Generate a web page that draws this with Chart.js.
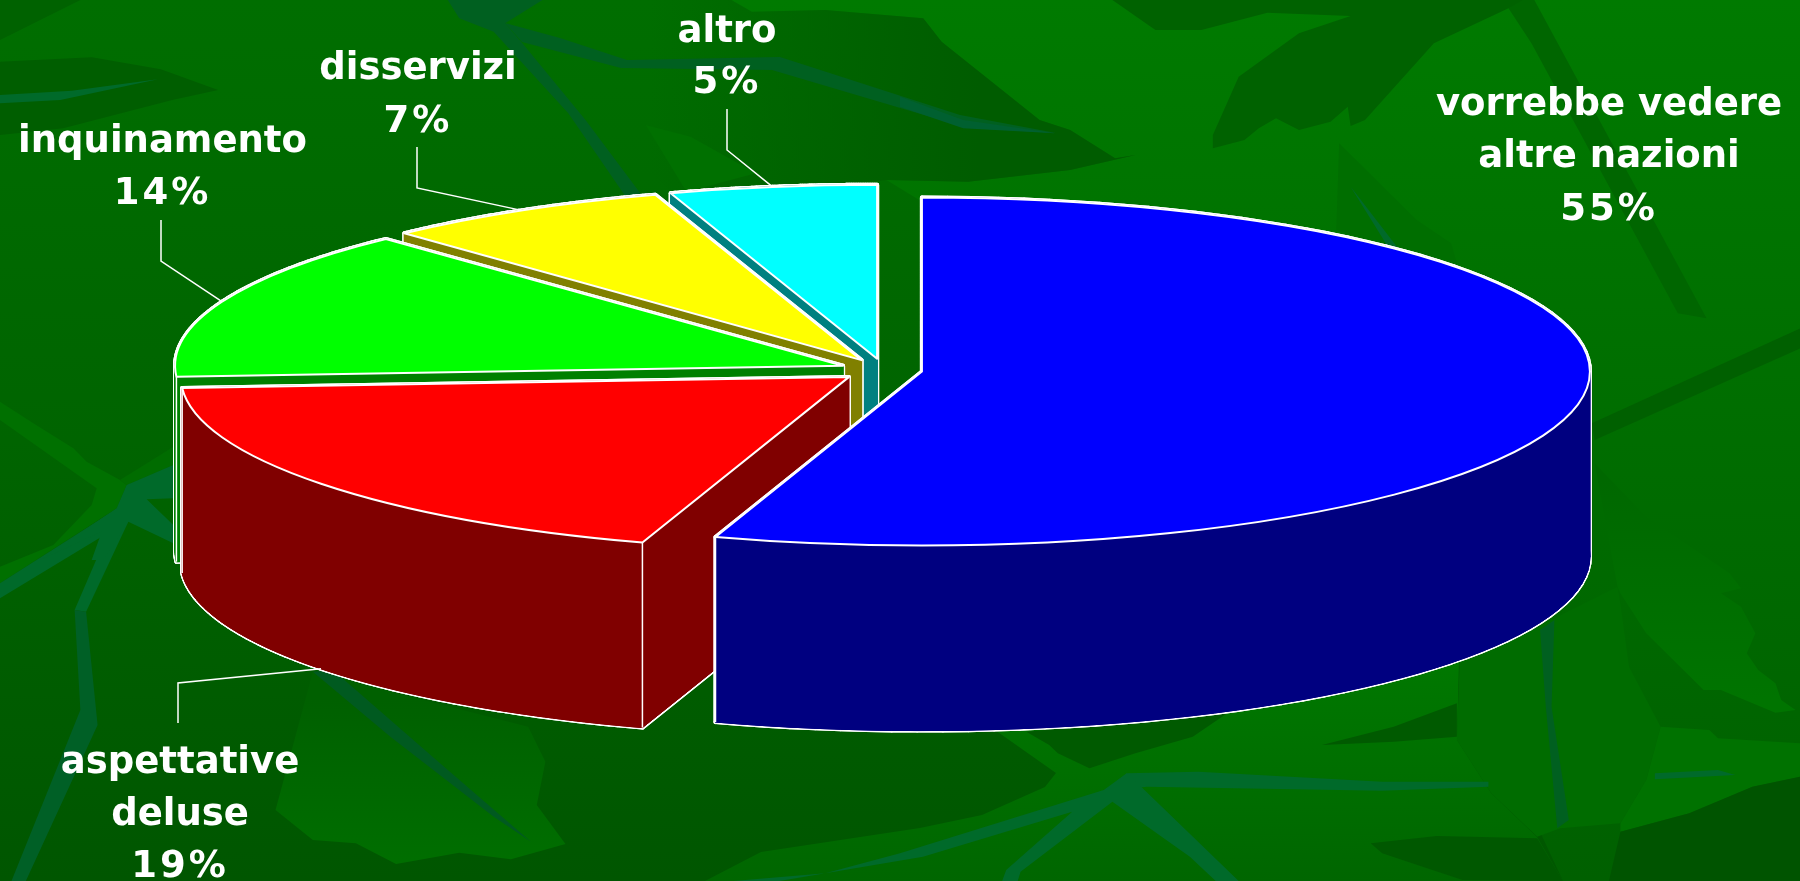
<!DOCTYPE html>
<html><head><meta charset="utf-8">
<style>html,body{margin:0;padding:0;background:#006400;overflow:hidden}#w{position:relative;width:1800px;height:881px}</style>
<script src="https://cdn.jsdelivr.net/npm/chart.js@4"></script>
</head><body><div id="w"><canvas id="c" width="1800" height="881"></canvas></div>
<script>
// ---- data ----
const categories = [['vorrebbe vedere','altre nazioni'],['aspettative','deluse'],['inquinamento'],['disservizi'],['altro']];
const values = [55,19,14,7,5];
const topColors = ['#0000ff','#ff0000','#00ff00','#ffff00','#00ffff'];
const wallColors = ['#000080','#800000','#008000','#808000','#008080'];

// ---- styling / layout (not data) ----
const RX = 668, RY = 174, DEPTH = 185;
const explode = [38.4,44.5,44,44,44];     // radial separation of each slice, in horizontal px
const paintOrder = [4,3,2,1,0];           // back to front
const labelPos = [
  {x:1609,y:[115,167,220]},
  {x:180,y:[773,825,877],elbow:[[178,723],[178,683]],onBase:true},
  {x:162.5,y:[152,204],elbow:[[161,220],[161,261]]},
  {x:418,y:[79,132],elbow:[[417,147],[417,188]]},
  {x:727,y:[42,93],elbow:[[727,109],[727,150]]}
];
const FONT = 'bold 37px "DejaVu Sans"';

// background foliage
const z1=a=>a.map(([x,y])=>[x/1.742,y/3]);
const z2=a=>a.map(([x,y])=>[900+x/1.742,y/3]);
const z3=a=>a.map(([x,y])=>[x/1.742,440+y/3]);
const z4=a=>a.map(([x,y])=>[900+x/1.742,440+y/3]);
const z5=a=>a.map(([x,y])=>[x/3,340+y/3]);
const z6=a=>a.map(([x,y])=>[560+x/2.45,y/3]);
const T='#006a2a', LIGHT=['#007a00','#006000'];
const foliage=[
 // light sheet behind the upper and right part of the picture
 [LIGHT,[...z6([[420,0],[470,35],[650,30],[890,55],[935,125],[1175,360],[1250,390],[1360,475],[1410,465],[1250,510],[1000,545],[800,540],[880,600]]),[1300,300],[1460,660],[1563,881],[1800,881],[1800,0]]],
 // shaded leaf that darkens from left to right under that sheet
 [{h:[650,980,'rgba(0,92,0,0)','rgba(0,92,0,1)']},z6([[420,0],[470,35],[650,30],[890,55],[935,125],[1175,360],[1250,390],[1360,475],[1410,465],[1250,510],[1000,545],[800,540],[300,600],[0,300],[0,0]])],
 ['#006200',z1([[0,0],[140,0],[0,120]])],
 ['#005e00',z1([[0,185],[160,172],[280,208],[380,270],[300,300],[110,385],[0,405]])],
 [T,z1([[0,285],[125,272],[275,238],[105,300],[0,310]])],
 ['#007000',z6([[210,375],[320,410],[480,520],[310,575]])],
 ['#006020',[[505,23],[560,38],[627,60],[780,57],[960,115],[1056,133],[968,128],[772,70],[621,68],[560,52],[522,42]]],
 ['#006020',z1([[780,0],[945,0],[880,70],[910,130],[1020,360],[1120,590],[1090,590],[990,340],[860,95],[800,55]])],
 ['#006030',z2([[0,290],[110,360],[270,400],[110,385],[0,320]])],
 ['#006200',z2([[370,0],[445,90],[525,90],[640,38],[785,48],[695,100],[590,230],[545,405],[545,445],[600,420],[625,385],[655,355],[695,390],[750,365],[780,320],[785,378],[810,360],[930,130],[1060,25],[1105,0]])],
 ['#006600',z2([[1085,0],[1105,0],[1405,955],[1355,940],[1100,130],[1060,25]])],
 ['#006000',z2([[1568,985],[1568,1045],[1210,1320],[1205,1270]])],
 ['#006e00',z2([[765,430],[900,660],[960,730],[970,790],[870,750],[760,690]])],
 [T,z2([[785,560],[870,750],[850,740]])],
 // lower left veins
 ['#007000',z5([[0,185],[100,250],[220,325],[260,365],[360,420],[380,435],[350,505],[0,730],[0,680],[160,615],[275,495],[290,445],[0,240]])],
 ['#006c00',z5([[360,420],[520,320],[520,375],[380,435]])],
 [T,z3([[0,430],[205,205],[225,240],[0,475]])],
 [T,z3([[225,130],[130,510],[150,515],[225,240]])],
 ['#006026',z3([[130,510],[140,810],[20,1323],[45,1323],[170,855],[150,515]])],
 [T,z5([[380,435],[520,375],[520,410],[480,410],[520,410],[520,475],[440,478],[520,555],[520,610],[385,545],[310,660],[275,660],[305,575],[120,660],[350,505]])],
 // bottom leaf
 [['#006000','#006e00',700,860],z3([[920,860],[950,965],[935,1095],[985,1212],[890,1258],[800,1238],[690,1272],[620,1210],[545,1200],[480,1110],[545,695]])],
 ['#005a20',z3([[545,695],[580,690],[760,960],[925,1205],[860,1130],[680,890]])],
 // lower centre and right
 [['#007800','#006600',660,881],[[995,730],[1056,773],[1045,787],[982,815],[920,828],[761,852],[705,881],[1563,881],[1537,837],[1491,793],[1457,740],[1460,620],[1000,620]]],
 ['#005a00',z4([[220,875],[570,820],[510,890],[410,940],[330,985],[275,940],[260,915]])],
 ['#006c00',z4([[975,660],[970,900],[1030,1060],[1110,1190],[1150,1165],[1255,1150],[1300,1020],[1325,860],[1270,680],[1255,490],[1250,440],[1180,500],[1100,570],[1040,620]])],
 ['#005a00',z4([[970,790],[860,860],[735,915],[860,905],[970,890]])],
 ['#006020',z4([[1115,570],[1140,540],[1135,800],[1165,1140],[1145,1165],[1125,800]])],
 [['#006800','#007400',480,700],z4([[1210,70],[1300,230],[1445,400],[1465,445],[1430,460],[1465,500],[1490,580],[1475,640],[1495,690],[1525,730],[1535,780],[1560,810],[1525,818],[1430,750],[1400,750],[1300,580],[1255,460],[1250,440]])],
 ['#007200',z4([[1325,860],[1410,870],[1425,895],[1568,910],[1568,1010],[1485,1040],[1375,1120],[1255,1175],[1255,1150],[1300,1020]])],
 ['#005400',z4([[1568,1010],[1485,1040],[1375,1120],[1255,1175],[1235,1323],[1568,1323]])],
 ['#005800',z4([[820,1210],[935,1188],[1110,1195],[1155,1323],[980,1320],[840,1240]])],
 [T,z4([[395,1000],[520,995],[840,1025],[1025,1025],[1025,1040],[840,1052],[430,1040],[355,1055]])],
 [T,z4([[355,1050],[0,1240],[-130,1300],[-290,1323],[-210,1323],[40,1250],[300,1115],[185,1290],[178,1323],[205,1323],[210,1295],[370,1085],[505,1250],[550,1323],[590,1323],[420,1040],[395,1000]])],
 [T,z4([[1315,1000],[1425,990],[1455,1005],[1315,1018]])]
];

function poly(ctx,p){ctx.beginPath();p.forEach(([x,y],i)=>i?ctx.lineTo(x,y):ctx.moveTo(x,y));ctx.closePath();}

const scene = {
  id:'scene',
  beforeDraw(chart){
    const ctx=chart.ctx; ctx.save();
    const g=ctx.createLinearGradient(0,0,0,881);
    g.addColorStop(0,'#006e00');g.addColorStop(.5,'#006400');g.addColorStop(1,'#005600');
    ctx.fillStyle=g;ctx.fillRect(0,0,1800,881);
    foliage.forEach(([c,p])=>{
      if(Array.isArray(c)){
        const gr=ctx.createLinearGradient(0,c[2]||0,0,c[3]||881);
        gr.addColorStop(0,c[0]);gr.addColorStop(1,c[1]);ctx.fillStyle=gr;
      } else if(c.h){
        const gr=ctx.createLinearGradient(c.h[0],0,c.h[1],0);
        gr.addColorStop(0,c.h[2]);gr.addColorStop(1,c.h[3]);ctx.fillStyle=gr;
      } else ctx.fillStyle=c;
      poly(ctx,p);ctx.fill();
    });
    ctx.restore();
  },
  geom(el,i){
    const mid=(el.startAngle+el.endAngle)/2;
    const k=explode[i]/RX*el.outerRadius;
    const sx=RX/el.outerRadius, sy=RY/el.outerRadius;
    return {ax:el.x+Math.cos(mid)*k*sx, ay:el.y+Math.sin(mid)*k*sy, sx, sy, mid};
  },
  beforeDatasetDraw(chart){
    const ctx=chart.ctx, arcs=chart.getDatasetMeta(0).data;
    paintOrder.forEach(i=>{
      const el=arcs[i], g=this.geom(el,i);
      const on=a=>[g.ax+RX*Math.cos(a), g.ay+RY*Math.sin(a)];
      const rim=[]; const n=90;
      for(let s=0;s<=n;s++) rim.push(on(el.startAngle+(el.endAngle-el.startAngle)*s/n));
      const ring=[[g.ax,g.ay],...rim];
      const dn=p=>[p[0],p[1]+DEPTH];
      const pieces=[ring,ring.map(dn)];
      ring.forEach((p,j)=>{const q=ring[(j+1)%ring.length];pieces.push([p,q,dn(q),dn(p)]);});
      ctx.save();ctx.lineJoin='round';
      ctx.strokeStyle='#fff';ctx.lineWidth=4;
      pieces.forEach(p=>{poly(ctx,p);ctx.stroke();});
      ctx.fillStyle=wallColors[i];ctx.strokeStyle=wallColors[i];ctx.lineWidth=1;
      pieces.forEach(p=>{poly(ctx,p);ctx.fill();ctx.stroke();});
      ctx.strokeStyle='#fff';ctx.lineWidth=1.5;
      [el.startAngle,el.endAngle].forEach(a=>{
        if(Math.sin(a)>0.05){const p=on(a);ctx.beginPath();ctx.moveTo(p[0],p[1]);ctx.lineTo(p[0],p[1]+DEPTH);ctx.stroke();}
      });
      ctx.save();
      ctx.translate(g.ax,g.ay);ctx.scale(g.sx,g.sy);ctx.translate(-el.x,-el.y);
      el.draw(ctx);
      ctx.restore();
      ctx.strokeStyle='#fff';ctx.lineWidth=2;
      ctx.beginPath();ctx.moveTo(g.ax,g.ay);ctx.ellipse(g.ax,g.ay,RX,RY,0,el.startAngle,el.endAngle);ctx.closePath();ctx.stroke();
      ctx.restore();
    });
    return false;
  },
  afterDraw(chart){
    const ctx=chart.ctx, arcs=chart.getDatasetMeta(0).data;
    ctx.save();
    arcs.forEach((el,i)=>{
      const g=this.geom(el,i), L=labelPos[i];
      if(L.elbow){
        const ex=g.ax+RX*Math.cos(g.mid), ey=g.ay+RY*Math.sin(g.mid)+(L.onBase?DEPTH:0);
        ctx.strokeStyle='#fff';ctx.lineWidth=1.5;ctx.beginPath();
        ctx.moveTo(L.elbow[0][0],L.elbow[0][1]);ctx.lineTo(L.elbow[1][0],L.elbow[1][1]);ctx.lineTo(ex,ey);ctx.stroke();
      }
      ctx.fillStyle='#fff';ctx.font=FONT;ctx.textAlign='center';ctx.textBaseline='alphabetic';
      categories[i].forEach((t,j)=>{ctx.letterSpacing='0px';ctx.fillText(t,L.x,L.y[j]);});
      ctx.letterSpacing='3px';
      ctx.fillText(values[i]+'%',L.x,L.y[categories[i].length]);
      ctx.letterSpacing='0px';
    });
    ctx.restore();
  }
};

new Chart(document.getElementById('c'),{
  type:'pie',
  data:{labels:categories.map(c=>c.join(' ')),datasets:[{data:values,backgroundColor:topColors,borderWidth:0,hoverOffset:0}]},
  options:{
    responsive:false,animation:false,
    layout:{padding:{right:32,bottom:141}},
    plugins:{legend:{display:false},tooltip:{enabled:false}}
  },
  plugins:[scene]
});
</script></body></html>
